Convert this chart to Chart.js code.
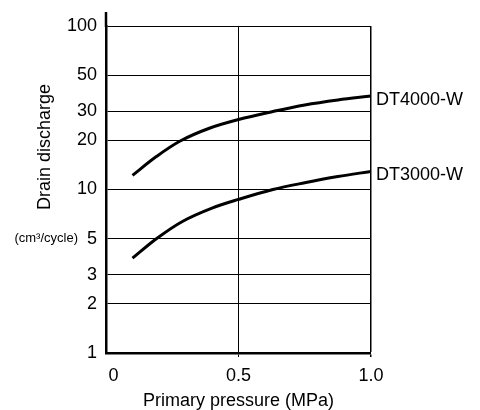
<!DOCTYPE html>
<html>
<head>
<meta charset="utf-8">
<script src="https://cdn.jsdelivr.net/npm/chart.js@4/dist/chart.umd.min.js"></script>
<style>
  html, body { margin: 0; padding: 0; background: #fff; }
  #wrap { width: 480px; height: 410px; position: relative; }
</style>
</head>
<body>
<div id="wrap"><canvas id="c" width="480" height="410"></canvas></div>
<script>
// ---- data ----
const seriesNames = ['DT4000-W', 'DT3000-W'];
const pressureDT4000 = [0.1, 0.19, 0.28, 0.39, 0.5, 0.63, 0.75, 0.875, 1.0];
const dischargeDT4000 = [12.2, 15.9, 19.8, 23.7, 26.8, 30, 32.9, 35.3, 37.3];
const pressureDT3000 = [0.1, 0.19, 0.29, 0.4, 0.5, 0.63, 0.75, 0.875, 1.0];
const dischargeDT3000 = [3.8, 5, 6.4, 7.7, 8.7, 10, 11, 12, 12.9];
const yTickValues = [1, 2, 3, 5, 10, 20, 30, 50, 100];
const xTickValues = [0, 0.5, 1.0];
const xTitle = 'Primary pressure (MPa)';
const yTitle = 'Drain discharge';
const yUnit = '(cm\u00B3/cycle)';

const FONT = '"Liberation Sans", Arial, sans-serif';
const FS = 18;

function pts(xs, ys) { return xs.map((x, i) => ({ x: x, y: ys[i] })); }

const annotations = {
  id: 'annotations',
  afterDraw(chart) {
    const ctx = chart.ctx;
    const area = chart.chartArea;
    const y = chart.scales.y;
    ctx.save();
    // extension of the left axis above the top gridline
    ctx.strokeStyle = '#000';
    ctx.lineWidth = 2.5;
    ctx.beginPath();
    ctx.moveTo(area.left, area.top - 14);
    ctx.lineTo(area.left, area.top + 1);
    ctx.stroke();
    // rotated y title
    ctx.fillStyle = '#000';
    ctx.font = FS + 'px ' + FONT;
    ctx.textAlign = 'center';
    ctx.textBaseline = 'middle';
    ctx.translate(45, 147);
    ctx.rotate(-Math.PI / 2);
    ctx.fillText(yTitle, 0, 0);
    ctx.restore();
    // unit label next to the "5" tick
    ctx.save();
    ctx.fillStyle = '#000';
    ctx.font = '13px ' + FONT;
    ctx.textAlign = 'right';
    ctx.textBaseline = 'middle';
    ctx.fillText(yUnit, 78, y.getPixelForValue(5));
    ctx.restore();
    // series labels at the ends of the curves
    ctx.save();
    ctx.fillStyle = '#000';
    ctx.font = FS + 'px ' + FONT;
    ctx.textAlign = 'left';
    ctx.textBaseline = 'middle';
    chart.data.datasets.forEach((ds, i) => {
      const meta = chart.getDatasetMeta(i);
      const last = meta.data[meta.data.length - 1];
      ctx.fillText(ds.label, last.x + 5, last.y + 4);
    });
    ctx.restore();
  }
};

new Chart(document.getElementById('c'), {
  type: 'line',
  data: {
    datasets: [
      { label: seriesNames[0], data: pts(pressureDT4000, dischargeDT4000) },
      { label: seriesNames[1], data: pts(pressureDT3000, dischargeDT3000) }
    ]
  },
  options: {
    responsive: false,
    animation: false,
    layout: { padding: { left: 0, right: 109, top: 26, bottom: 0 } },
    elements: {
      line: { borderColor: '#000', borderWidth: 3, tension: 0.35, fill: false, borderCapStyle: 'butt' },
      point: { radius: 0 }
    },
    plugins: { legend: { display: false }, tooltip: { enabled: false } },
    scales: {
      x: {
        type: 'linear',
        min: 0,
        max: 1,
        afterBuildTicks: (s) => { s.ticks = xTickValues.map(v => ({ value: v })); },
        afterFit: (s) => { s.height = 57; },
        border: { display: true, color: '#000', width: 2.5 },
        grid: {
          color: '#000',
          lineWidth: (c) => (c.tick && c.tick.value === 0) ? 0 : (c.tick && c.tick.value === 1 ? 1.5 : 1),
          drawTicks: true,
          tickLength: 4
        },
        ticks: {
          color: '#000',
          font: { family: FONT, size: FS },
          padding: 8,
          maxRotation: 0,
          callback: (v) => v === 0 ? '   0' : Number(v).toFixed(1)
        },
        title: {
          display: true,
          text: xTitle,
          color: '#000',
          font: { family: FONT, size: FS, lineHeight: 1 },
          padding: { top: 0, bottom: 0 }
        }
      },
      y: {
        type: 'logarithmic',
        min: 1,
        max: 100,
        afterBuildTicks: (s) => { s.ticks = yTickValues.map(v => ({ value: v })); },
        afterFit: (s) => { s.width = 106; },
        border: { display: true, color: '#000', width: 2.5 },
        grid: { color: '#000', lineWidth: 1, drawTicks: false },
        ticks: {
          color: '#000',
          font: { family: FONT, size: FS },
          padding: 9,
          callback: (v) => String(v)
        },
        title: { display: false }
      }
    }
  },
  plugins: [annotations]
});
</script>
</body>
</html>
